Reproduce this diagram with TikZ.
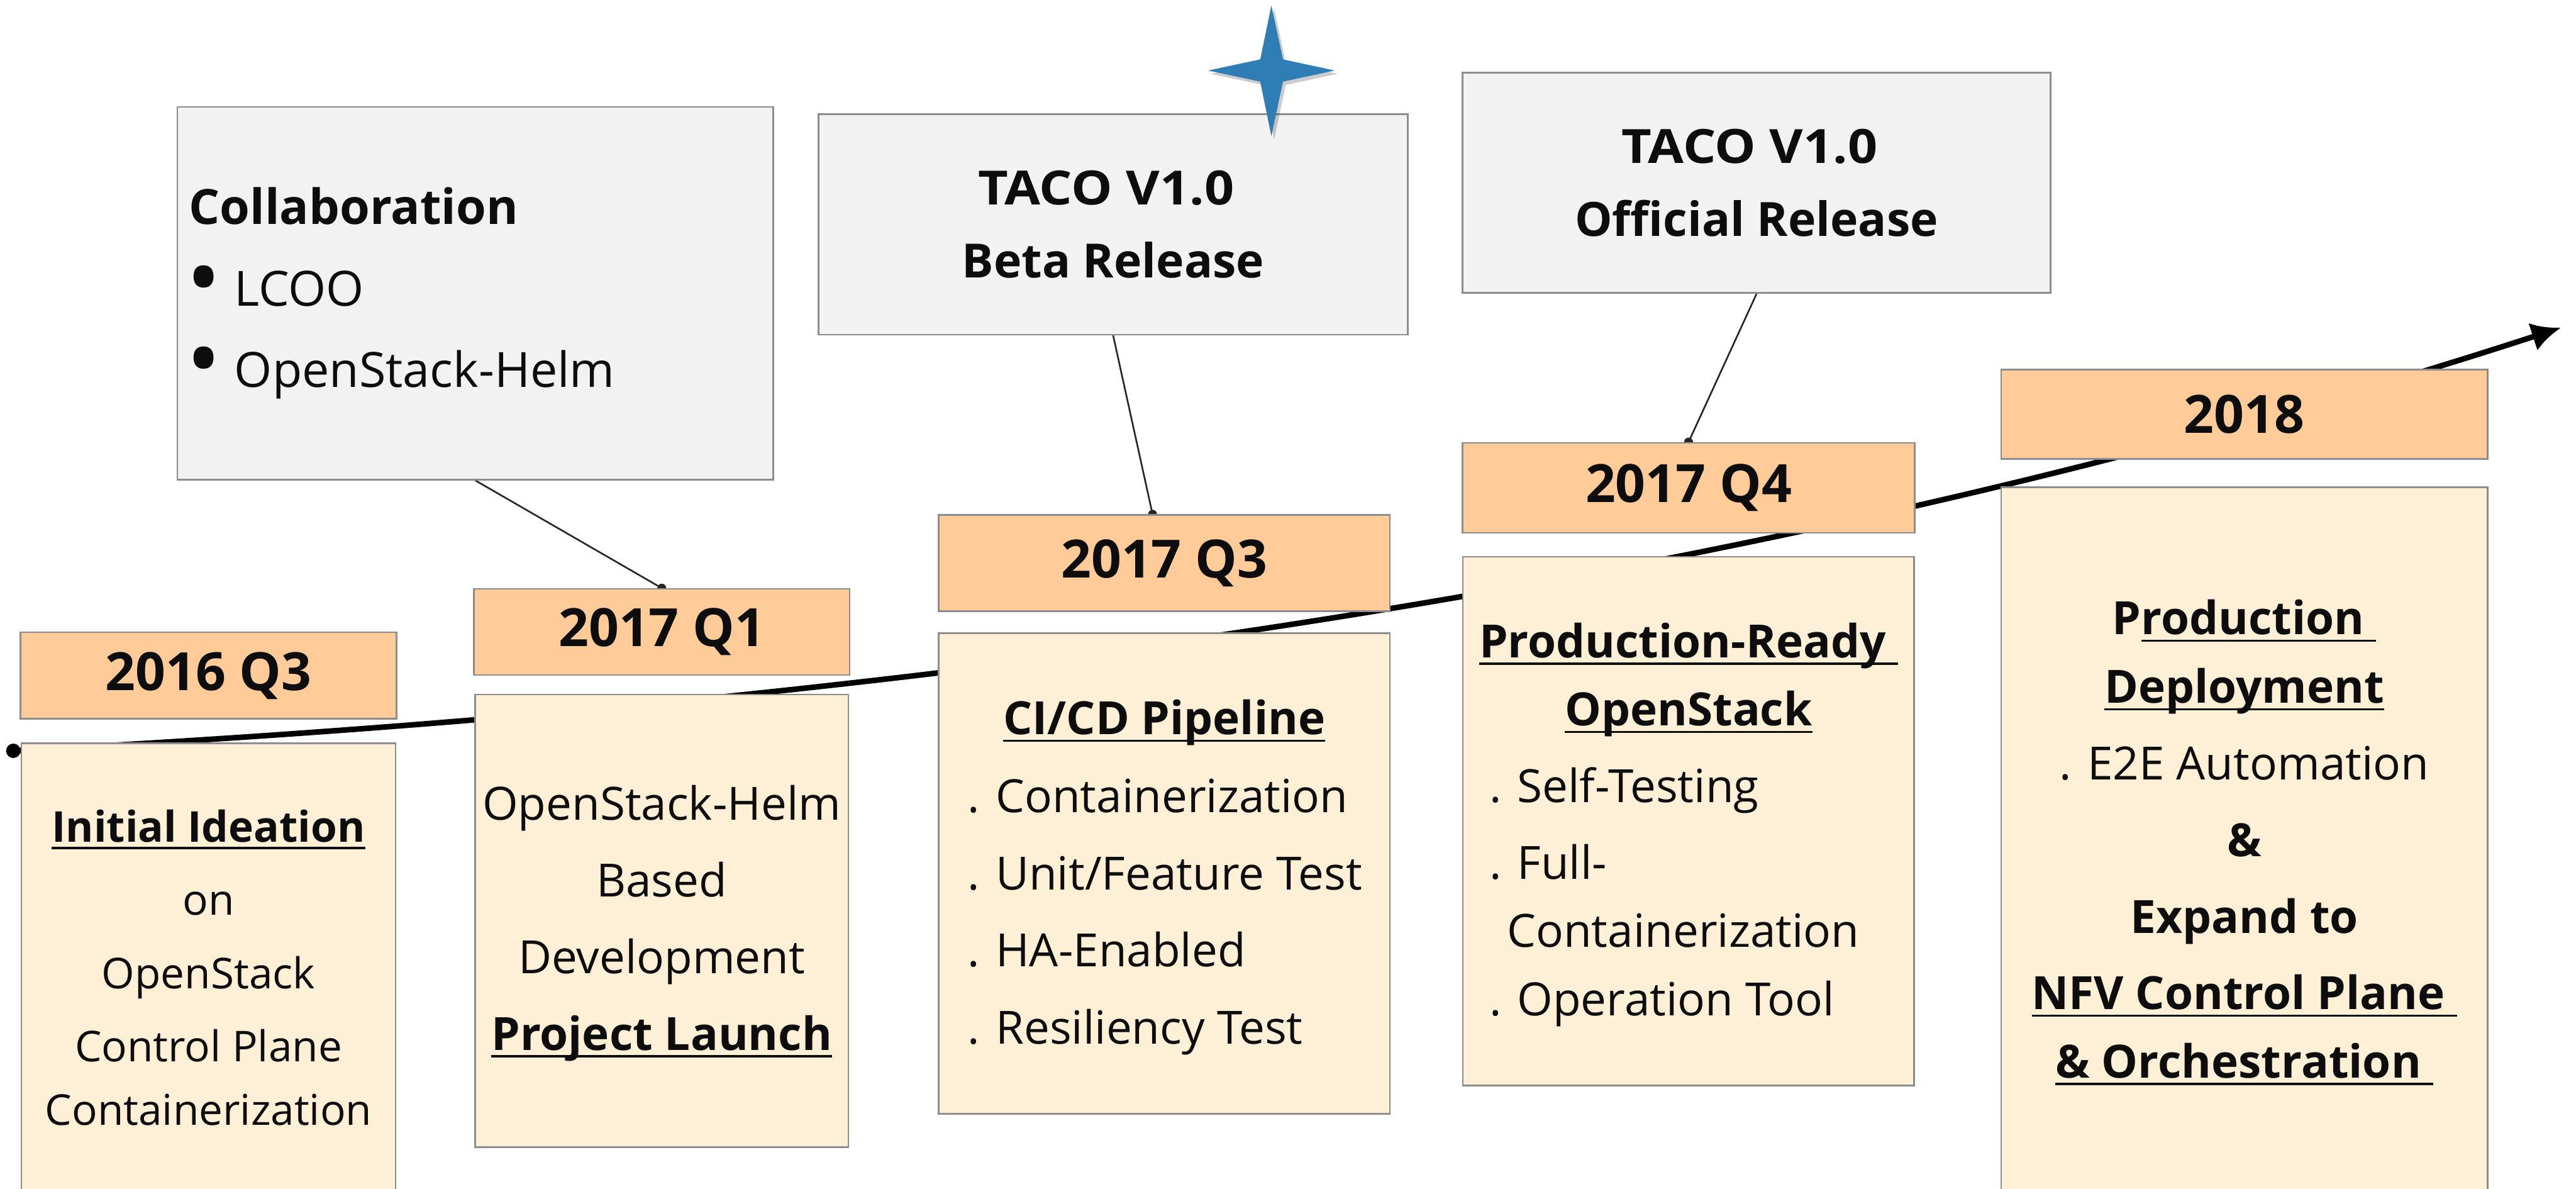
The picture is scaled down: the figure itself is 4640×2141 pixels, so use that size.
\documentclass[tikz,border=0pt]{standalone}
\usepackage{fontspec}
\setmainfont{Open Sans}
\usetikzlibrary{arrows.meta,positioning,backgrounds}

\definecolor{yearfill}{HTML}{FFCC99}
\definecolor{bodyfill}{HTML}{FEEFD7}
\definecolor{notefill}{HTML}{F2F2F2}
\definecolor{boxline}{HTML}{8C8C8C}
\definecolor{linkgray}{HTML}{262626}
\definecolor{starblue}{HTML}{2E7DB5}
\definecolor{ink}{HTML}{0D0D0D}

\newsavebox{\ulbox}
\newcommand{\uln}[1]{\sbox{\ulbox}{#1}\rlap{\rule[-2.6pt]{\wd\ulbox}{0.8pt}}\usebox{\ulbox}}
\newcommand{\rows}[2]{\begin{tabular}[t]{@{}#1@{}}#2\end{tabular}}
\newcommand{\taco}{\scalebox{1.1}[1]{TACO V1.0}\hspace*{5pt}}

\newcommand{\yearfont}{\fontsize{19pt}{23pt}\selectfont\bfseries}
\newcommand{\notefont}{\fontsize{17pt}{26.2pt}\selectfont\bfseries}
\newcommand{\collabfont}{\fontsize{17.5pt}{29.3pt}\selectfont}
\newcommand{\bodyfont}{\fontsize{16.5pt}{24.6pt}\selectfont}
\newcommand{\smallbodyfont}{\fontsize{15.3pt}{26.4pt}\selectfont}
\newcommand{\bul}{\hspace*{-1pt}\makebox[17.4pt][l]{\raisebox{-1.6pt}{\scalebox{1.9}{\textbullet}}}}

\begin{document}
\begin{tikzpicture}[x=0.2pt,y=-0.2pt,
  year/.style={draw=boxline,line width=0.6pt,fill=yearfill,inner sep=0pt,text=ink,font=\yearfont},
  body/.style={draw=boxline,line width=0.6pt,fill=bodyfill,inner sep=0pt},
  note/.style={draw=boxline,line width=0.6pt,fill=notefill,inner sep=0pt,text=ink,align=center,font=\notefont},
  txt/.style={text=ink,inner sep=0pt,font=\bodyfont},
  link/.style={draw=linkgray,line width=0.6pt}]

\useasboundingbox (0,0) rectangle (4640,2141);
\clip (0,0) rectangle (4640,2141);

% quarters
\node[year,anchor=north west,minimum width=135.6pt,minimum height=31.2pt] (yr163) at (35,1137) {2016 Q3};
\node[body,below=8.2pt of yr163,minimum width=134.8pt,minimum height=165.2pt] (bd163) {};
\node[year,anchor=north west,minimum width=135.4pt,minimum height=31pt] (yr171) at (852,1059) {2017 Q1};
\node[body,below=6.4pt of yr171,minimum width=134.4pt,minimum height=163pt] (bd171) {};
\node[year,anchor=north west,minimum width=162.6pt,minimum height=34.6pt] (yr173) at (1689,926) {2017 Q3};
\node[body,below=7.4pt of yr173,minimum width=162.6pt,minimum height=173pt] (bd173) {};
\node[year,anchor=north west,minimum width=162.8pt,minimum height=32.4pt] (yr174) at (2633,796) {2017 Q4};
\node[body,below=8pt of yr174,minimum width=162.6pt,minimum height=190.4pt] (bd174) {};
\node[year,anchor=north west,minimum width=175.2pt,minimum height=32.2pt] (yr18) at (3603,664) {2018};
\node[body,below=9.6pt of yr18,minimum width=175.2pt,minimum height=257.4pt] (bd18) {};

% texts in the quarter boxes
\node[txt,anchor=base,font=\smallbodyfont] (tx163) at ([yshift=-35.8pt]bd163.north)
  {\rows{c}{\textbf{\uln{Initial Ideation}}\\ on\\ OpenStack\\ Control Plane\\[-3.6pt] Containerization}};
\node[txt,anchor=base] (tx171) at ([yshift=-45.6pt]bd171.north)
  {\rows{c}{OpenStack-Helm\\[3pt] Based\\[3pt] Development\\[3pt] \textbf{\uln{Project Launch}}}};
\node[txt,anchor=base] (hd173) at ([yshift=-36.8pt]bd173.north) {\textbf{\uln{CI/CD Pipeline}}};
\node[txt,anchor=base west] (tx173) at ([xshift=10.6pt,yshift=-64.8pt]bd173.north west)
  {\rows{l}{. Containerization\\[3.2pt] . Unit/Feature Test\\[3.2pt] . HA-Enabled\\[3.2pt] . Resiliency Test}};
\node[txt,anchor=base] (hd174) at ([yshift=-36.6pt]bd174.north)
  {\rows{c}{\textbf{\uln{Production-Ready }}\\ \textbf{\uln{OpenStack}}}};
\node[txt,anchor=base west] (tx174) at ([xshift=9.6pt,yshift=-88.8pt]bd174.north west)
  {\rows{l}{. Self-Testing\\[3pt] . Full-\\ \hspace*{6.4pt}Containerization\\ . Operation Tool}};
\node[txt,anchor=base] (tx18) at ([yshift=-53.4pt]bd18.north)
  {\rows{c}{\textbf{P\uln{roduction }}\\ \textbf{\uln{Deployment}}\\[3pt] . E2E Automation\\[3pt]
   \textbf{\&}\\[3pt] \textbf{Expand to}\\[3pt] \textbf{\uln{NFV Control Plane }}\\ \textbf{\uln{\& Orchestration }}}};

% milestones
\node[note,anchor=north west,minimum width=214.6pt,minimum height=134.2pt,text width=206.2pt,
  inner xsep=4.2pt,align=left,font=\collabfont] (coll) at (318,191)
  {\textbf{Collaboration}\\ \bul LCOO\\ \bul OpenStack-Helm};
\node[note,anchor=north west,minimum width=212.2pt,minimum height=79.4pt] (beta) at (1473,204) {\taco\\Beta Release};
\node[note,anchor=north west,minimum width=211.8pt,minimum height=79.4pt] (rel) at (2633,129) {\taco\\Official Release};

% timeline and links
\begin{scope}[on background layer]
  \coordinate (tl0) at (24,1352);
  \coordinate (tl1) at (4613,590);
  \draw[line width=2pt,-{Latex[length=10.6pt,width=10.4pt]}] (tl0) .. controls (1572,1271) and (3139,1069) .. (tl1);
  \fill (tl0) circle (2.6pt);
  \draw[link] (coll.south) -- (yr171.north);
  \fill[linkgray] (yr171.north) circle (1.6pt);
  \draw[link] (beta.south) -- ([xshift=-4.2pt]yr173.north);
  \fill[linkgray] ([xshift=-4.2pt]yr173.north) circle (1.6pt);
  \draw[link] (rel.south) -- (yr174.north);
  \fill[linkgray] (yr174.north) circle (1.6pt);
\end{scope}

% star
\foreach \dx/\dy/\col/\op in {5/6/black/0.2,0/0/starblue/1}
  \fill[\col,opacity=\op,shift={(\dx,\dy)}] (2290,10) -- (2311,107) -- (2404,127) -- (2311,147)
    -- (2290,245) -- (2270,147) -- (2176,127) -- (2270,107) -- cycle;
\end{tikzpicture}
\end{document}
